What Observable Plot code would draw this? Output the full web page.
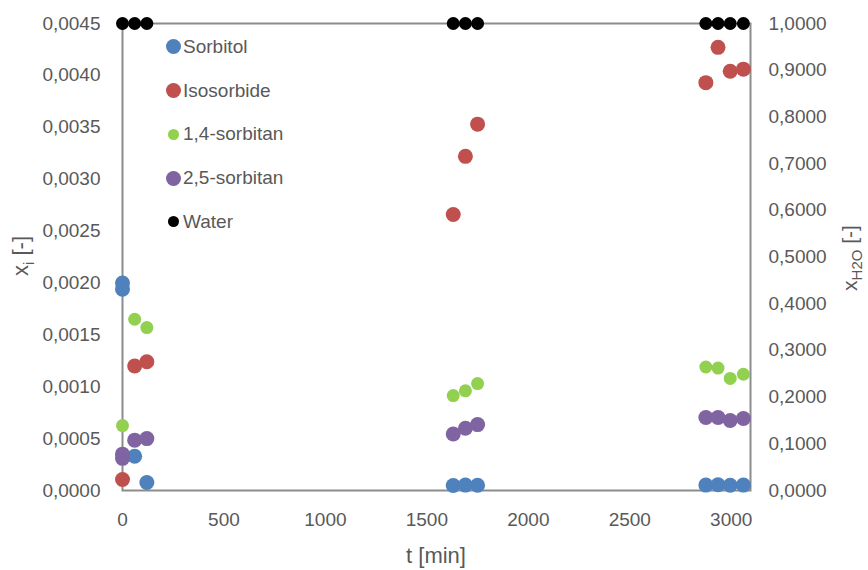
<!DOCTYPE html>
<html><head><meta charset="utf-8">
<script src="https://cdn.jsdelivr.net/npm/d3@7"></script>
<script src="https://cdn.jsdelivr.net/npm/@observablehq/plot@0.6"></script>
<style>
body{margin:0;background:#fff;font-family:"Liberation Sans",Arial,sans-serif;}
#wrap{position:relative;width:868px;height:570px;}
#legend{position:absolute;left:163px;top:25px;}
.row{height:43.75px;display:flex;align-items:center;font-size:19px;color:#595959;}
.sw{width:20px;display:flex;justify-content:center;margin-right:0px;}
.sw span{display:block;border-radius:50%;}
</style></head>
<body><div id="wrap"><div id="legend"></div></div>
<script>
const seriesNames = ["Sorbitol", "Isosorbide", "1,4-sorbitan", "2,5-sorbitan", "Water"];
const seriesColors = ["#4f81bd", "#c0504d", "#92d050", "#8064a2", "#000000"];
const seriesRadius = [7.5, 7.5, 6.5, 7.5, 6.5];

const sorbitolT = [0, 0, 60, 120, 1630, 1690, 1750, 2875, 2935, 2995, 3060];
const sorbitolX = [0.00200, 0.00194, 0.00033, 0.000077, 0.000048, 0.000052, 0.000050, 0.000052, 0.000055, 0.000050, 0.000052];

const isoT = [0, 60, 120, 1630, 1690, 1750, 2875, 2935, 2995, 3060];
const isoX = [0.000106, 0.00120, 0.00124, 0.00266, 0.00322, 0.00353, 0.00393, 0.00427, 0.00404, 0.00406];

const s14T = [0, 60, 120, 1630, 1690, 1750, 2875, 2935, 2995, 3060];
const s14X = [0.000626, 0.00165, 0.00157, 0.000915, 0.000960, 0.00103, 0.00119, 0.00118, 0.00108, 0.00112];

const s25T = [0, 0, 60, 120, 1630, 1690, 1750, 2875, 2935, 2995, 3060];
const s25X = [0.00035, 0.00031, 0.000485, 0.000500, 0.000545, 0.000600, 0.000635, 0.000703, 0.000703, 0.000675, 0.000694];

const waterT = [0, 60, 120, 1630, 1690, 1750, 2875, 2935, 2995, 3060];
const waterX = [1, 1, 1, 1, 1, 1, 1, 1, 1, 1];

const xTicks = [0, 500, 1000, 1500, 2000, 2500, 3000];
const yTicks = [0, 0.0005, 0.001, 0.0015, 0.002, 0.0025, 0.003, 0.0035, 0.004, 0.0045];
const y2Ticks = [0, 0.1, 0.2, 0.3, 0.4, 0.5, 0.6, 0.7, 0.8, 0.9, 1.0];

const Y_MAX = 0.0045, Y2_MAX = 1.0;

const rows = [];
const add = (i, ts, xs) => ts.forEach((t, k) => rows.push({series: seriesNames[i], t, x: xs[k], i}));
add(0, sorbitolT, sorbitolX);
add(1, isoT, isoX);
add(2, s14T, s14X);
add(3, s25T, s25X);
add(4, waterT, waterX.map(v => v * Y_MAX / Y2_MAX));

const comma = (v, n) => v.toFixed(n).replace(".", ",");
const frameColor = "#8c8c8c";
const textColor = "#595959";

const plot = Plot.plot({
  width: 868, height: 570,
  marginLeft: 122, marginRight: 118, marginTop: 23, marginBottom: 80,
  style: {fontFamily: '"Liberation Sans", Arial, sans-serif', fontSize: "19px", color: textColor, background: "#fff", overflow: "visible"},
  x: {domain: [0, 3095]},
  y: {domain: [0, Y_MAX]},
  marks: [
    Plot.frame({stroke: frameColor, strokeWidth: 2}),
    Plot.axisX({ticks: xTicks, tickSize: 0, tickPadding: 22, tickFormat: d => String(d), label: null, fill: textColor}),
    Plot.axisY({ticks: yTicks, tickSize: 0, tickPadding: 22, tickFormat: d => comma(d, 4), label: null, fill: textColor}),
    Plot.axisY({anchor: "right", ticks: y2Ticks.map(v => v * Y_MAX / Y2_MAX), tickSize: 0, tickPadding: 18, textAnchor: "start",
      tickFormat: d => comma(d / Y_MAX * Y2_MAX, 4), label: null, fill: textColor}),
    ...seriesNames.map((name, i) => Plot.dot(rows.filter(r => r.i === i), {
      x: "t", y: "x", r: seriesRadius[i], fill: seriesColors[i], stroke: "none", clip: false
    }))
  ]
});

const wrap = document.getElementById("wrap");
wrap.insertBefore(plot, wrap.firstChild);

const svg = d3.select(plot);
const lt = svg.append("text").attr("transform", "translate(28,256) rotate(-90)")
  .attr("text-anchor", "middle").attr("fill", textColor).style("font-size", "22px");
lt.append("tspan").text("x");
lt.append("tspan").attr("dy", 6).style("font-size", "15px").text("i");
lt.append("tspan").attr("dy", -6).text(" [-]");

const rt = svg.append("text").attr("transform", "translate(857,258) rotate(-90)")
  .attr("text-anchor", "middle").attr("fill", textColor).style("font-size", "21px");
rt.append("tspan").text("x");
rt.append("tspan").attr("dy", 5).style("font-size", "15px").text("H2O");
rt.append("tspan").attr("dy", -5).text(" [-]");

svg.append("text").attr("x", 436).attr("y", 563).attr("text-anchor", "middle")
  .attr("fill", textColor).style("font-size", "22px").text("t [min]");

const legend = d3.select("#legend");
seriesNames.forEach((name, i) => {
  const row = legend.append("div").attr("class", "row");
  const d = seriesRadius[i] * 2 - (i === 2 || i === 4 ? 2 : 0);
  row.append("div").attr("class", "sw").append("span")
    .style("width", d + "px").style("height", d + "px").style("background", seriesColors[i]);
  row.append("div").text(name);
});
</script></body></html>
